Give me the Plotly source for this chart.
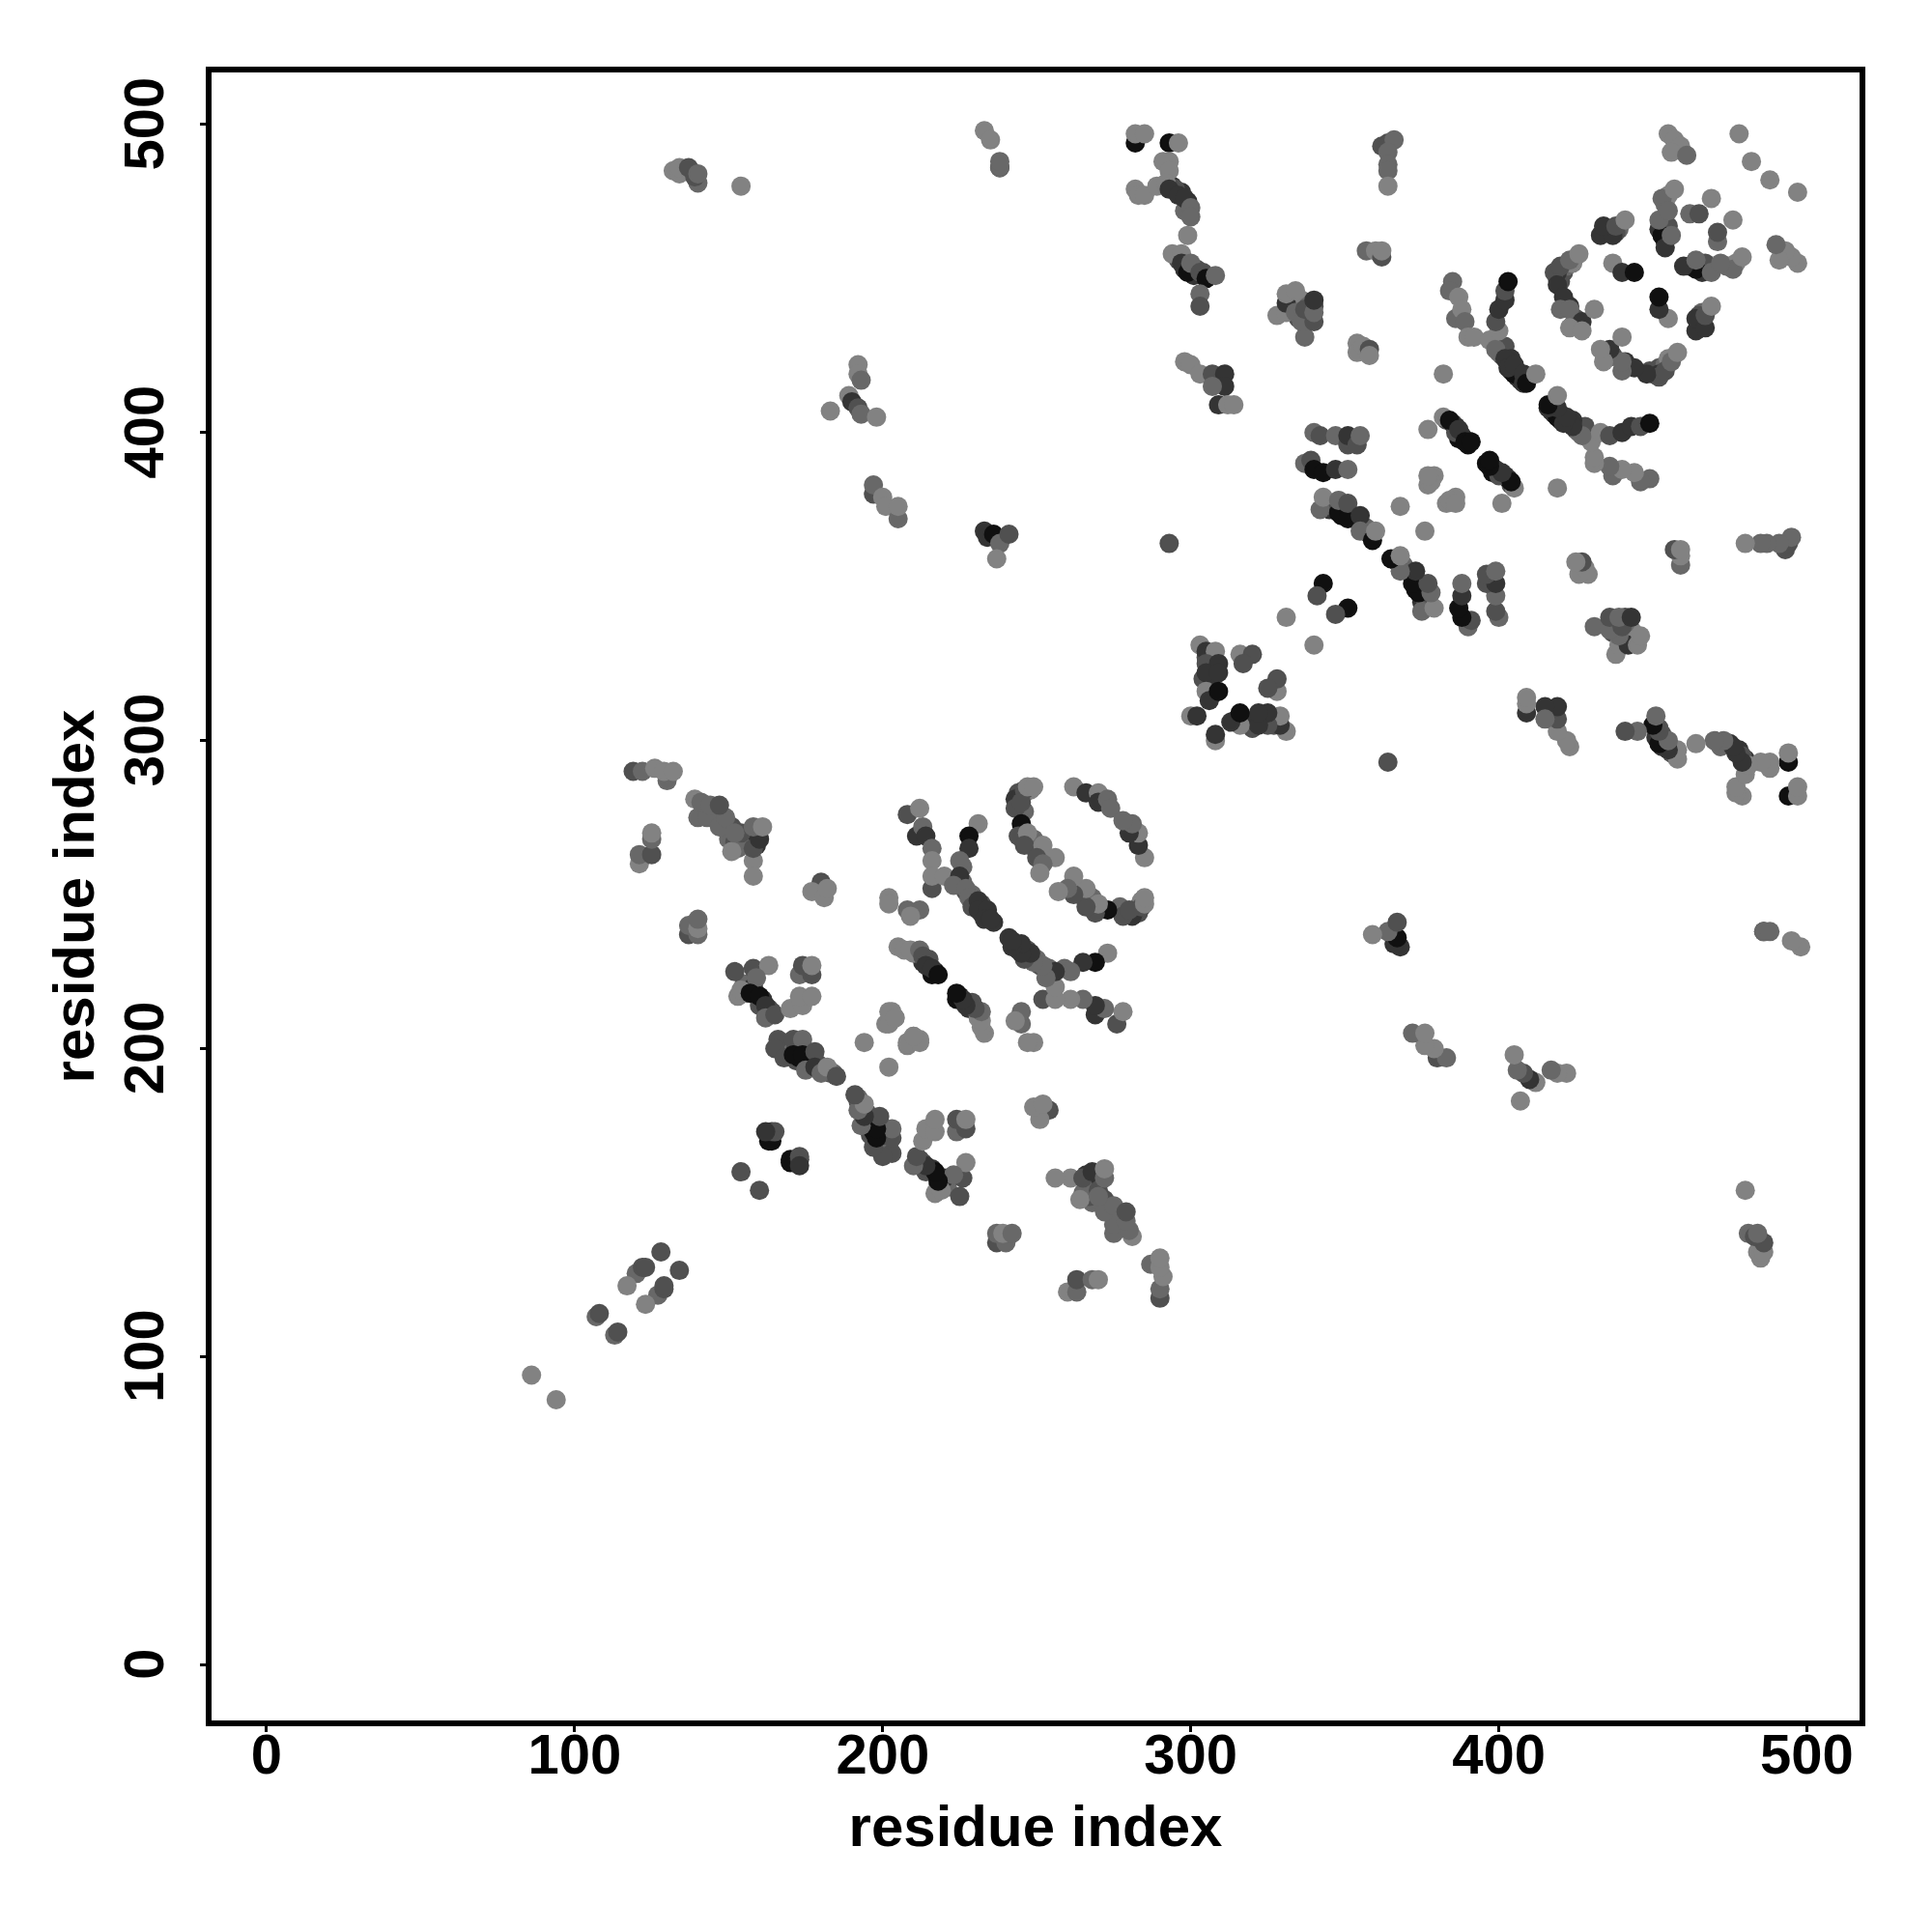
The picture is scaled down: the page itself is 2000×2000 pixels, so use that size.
import plotly.graph_objects as go

L, M, D, K, B = 130, 104, 80, 52, 16
tick_values = [0, 100, 200, 300, 400, 500]
axis_label = "residue index"

fill_g = [(166,200,M),(167,202,D),(169,199,K),(169,202,M),(172,196,D),(172,200,B),(173,197,B),(176,195,K),
          (177,197,K),(176,198,B),(179,195,D),(181,193,M),(183,192,D),(184,192,M)]
fill_f = [(155,221,M),(156,218,M),(158,220,K),(161,216,K),(163,213,D),(164,212,D),(160,214,D)]
fill_i = [(226,259,M),(232,244,K),(230,246,K),(229,250,M),(226,254,M),(234,243,K),(232,247,D),(227,251,D),(236,241,K)]
fill_j = [(244,283,D),(245,282,K),(246,283,M),(248,284,L),(244,279,D),(246,277,M),(248,266,D),(250,264,D),(249,268,M)]
fill_k = [(211,231,M),(213,228,K),(215,227,K),(216,224,B),(217,225,B),(215,229,D),(210,231,L)]
fill_x = [(383,404,D),(385,403,K),(386,402,K),(388,399,K),(387,398,B),(390,396,B),(386,400,D)]
fill_q = [(401,425,D),(403,423,K),(404,420,K),(406,420,K),(406,418,K),(407,417,K),(405,419,B),(408,416,K),
          (409,418,K),(399,428,M),(400,426,M),(402,428,D),(404,424,K)]
fill_w = [(344,377,M),(345,375,K),(346,376,D),(349,373,B),(353,372,K),(350,375,K),(357,369,M),(358,367,D)]
fill_r = [(419,450,K),(420,449,D),(421,452,D),(422,454,M),(424,455,L),(419,452,K),(423,441,K),(425,437,D),(424,435,M)]
fill_c = [(297,478,K),(294,480,K),(295,479,D),(299,475,K),(298,472,M),(298,453,K),(300,452,K),(301,451,K),
          (302,453,D),(304,452,D),(296,456,D)]
fill_b = [(143,278,M),(145,276,M),(151,272,D),(155,268,D),(156,266,K),(159,266,K),(150,268,M),(152,267,D),(154,266,M)]
fill_m = [(332,440,K),(333,441,D),(335,442,M),(333,445,L),(336,443,L),(338,438,M),(338,441,M),(340,441,D),(335,437,D),(339,437,M)]
fill_t = [(452,466,K),(454,462,K),(455,467,D),(454,474,M),(455,477,L)]
fill_s = [(435,465,D),(436,466,K),(439,466,M),(438,465,D)]
fill_a = [(307,328,M),(305,327,D),(307,326,K),(307,323,K),(304,320,D),(306,322,K),(307,315,K),(307,325,K),(308,323,K),(307,321,K)]

far_low = [(86,94,L),(107,113,M),(108,114,D),(120,127,M),(122,129,D),(123,129,D),(117,123,L),(128,134,D),
           (154,160,D)]
knot_a = [(164,170,B),(163,170,B),(164,173,K),(165,173,D),(162,173,K)]
top_row = [(119,290,D),(122,290,M),(130,287,M),(126,291,L),(129,290,L),(132,290,L)]
chain_b = [(140,275,M),(143,275,M),(147,272,M),(149,275,M),(153,265,M),(151,264,L),(158,261,L),(158,256,L),
           (158,265,D),(160,268,K),(154,270,D),(152,270,M),(139,281,L),(141,280,M),(144,279,M),(147,279,D),
           (158,272,M),(161,272,L)]
cluster_c = [(121,260,L),(121,263,M),(125,263,D),(125,268,M),(125,270,L)]
cluster_d = [(180,254,D),(177,251,L),(181,249,L),(182,252,L)]
cluster_e = [(137,237,D),(140,237,M),(137,240,M),(140,239,L),(140,242,M)]
band_f = [(152,225,D),(158,226,D),(163,227,L),(153,217,L),(154,219,L),(159,223,M),(157,218,B),(160,217,B),
          (162,214,K),(162,210,M),(165,211,D),(170,213,L),(174,214,L),(173,217,L),(177,217,L)]
tuft_f = [(173,224,M),(177,224,D),(174,227,D),(177,227,L)]
band_g = [(166,203,D),(165,200,D),(168,197,D),(171,203,D),(174,203,M),(171,198,B),(174,198,B),(178,199,D),
          (175,193,M),(178,194,K),(180,192,M),(182,194,L),(185,191,D)]
stem_h = [(208,276,D),(212,278,L),(211,269,K),(213,272,M),(214,269,K),(216,265,M),(216,261,L),(216,252,D),
          (216,256,L),(220,256,L)]
stem_i = [(231,273,L),(228,269,B),(228,265,K),(225,261,M),(225,256,K),(223,253,M),(227,252,M),(228,249,M),
          (229,246,D),(231,248,K),(231,245,K),(234,245,K),(233,242,K),(235,242,K)]
arc_j = [(243,281,K),(246,284,D),(243,278,D),(245,280,D),(247,285,L),(249,285,L),(245,273,B),(244,269,D),
         (247,270,L),(246,266,D),(252,266,L),(250,262,D),(256,262,L),(252,260,M),(251,257,L),
         (262,285,L),(266,283,K),(270,283,L),(270,280,K),(273,281,M),(274,278,M)]
band_k = [(205,233,L),(207,232,L),(209,232,L),(212,232,M),(213,230,D),(214,227,K),(216,226,K),(218,224,B)]
spots_l = [(202,249,L),(202,247,L),(208,245,M),(212,245,M),(209,243,L),(203,212,L),(204,210,L),(201,208,L),
           (194,202,L),(208,202,L),(212,202,L),(210,204,L)]

corner_a = [(282,494,B),(282,497,L),(285,497,L),(293,494,B),(296,494,L),(293,488,L),(291,488,L),(293,485,L)]
corner_b = [(282,479,L),(283,477,L),(285,477,L),(289,480,L),(292,481,L),(293,479,K),(296,477,K),(298,476,K),
            (300,473,M),(300,470,M),(299,464,L)]
corner_c = [(294,458,L),(297,458,L),(297,455,K),(299,452,B),(300,455,M),(303,452,D),(305,450,B),(308,451,M),
            (303,445,M),(303,441,D)]
corner_d = [(298,423,L),(300,422,L),(303,419,L),(307,419,D),(311,419,K),(311,415,K),(307,415,M),(309,409,K),
            (312,409,L),(314,409,L)]
block_m = [(328,438,L),(331,439,L),(331,442,K),(334,439,M),(331,445,L),(334,446,L),(337,431,M),(336,436,M),
           (337,440,D),(340,436,D),(340,439,M),(340,443,K)]
pair_n = [(357,459,M),(360,459,L),(362,457,D),(362,459,L),(354,429,L),(354,426,L),(356,428,L),(358,427,D),
          (358,425,L)]
column_o = [(362,493,D),(364,494,D),(366,495,M),(364,491,M),(364,487,M),(364,485,M),(364,480,L)]
vee_p = [(385,449,M),(384,446,M),(387,444,L),(386,437,M),(388,440,L),(389,436,M),(390,431,L),(392,431,L)]
vee_q = [(397,430,L),(399,427,M),(400,433,L),(399,436,D),(400,440,K),(402,443,K),(402,446,D),(403,449,B),
         (402,424,K),(403,421,K),(405,422,K),(408,419,K),(409,416,B),(412,419,L)]
arc_r = [(418,452,D),(419,448,K),(420,454,D),(421,444,K),(423,456,M),(426,458,L),(420,440,M),(423,440,M),
         (427,436,K),(431,440,L),(423,434,L),(427,433,L)]
arc_s = [(433,464,K),(437,464,K),(434,467,K),(438,467,D),(441,469,L),(437,455,L),(440,452,K),(444,452,B)]
crown_t = [(453,464,B),(454,460,K),(452,469,M),(456,464,M),(453,476,M),(455,472,M),(457,479,L),(462,471,M),
           (465,471,D),(469,476,L)]
crown_u = [(455,497,L),(457,495,L),(459,493,L),(456,491,L),(461,490,M),(478,497,L),(482,488,L)]
rows_v = [(340,400,M),(342,399,D),(347,399,M),(351,396,D),(351,399,K),(354,396,D),(355,399,M),
          (337,390,M),(339,391,D),(340,388,B),(343,387,B),(347,388,K),(351,388,M)]
rows_w = [(342,375,M),(348,374,B),(351,372,B),(343,379,L),(348,378,M),(351,377,D),(355,373,K),(355,368,M),
          (359,365,B),(360,368,L)]
hair_x = [(377,401,L),(382,405,L),(384,404,B),(387,401,K),(389,397,B),(391,397,B)]
spots_y = [(378,385,L),(379,386,L),(377,383,L),(384,378,L),(386,377,L),(368,376,L),(382,419,L)]
lone_z = [(293,364,D),(343,351,B),(341,347,D),(331,340,L)]
square_a = [(303,331,L),(305,329,K),(308,329,L),(305,325,D),(309,325,K),(305,322,K),(309,322,K),
            (316,328,L),(320,328,D),(317,325,D),(305,316,L),(306,313,K),(309,316,B),(300,308,L),(302,308,K)]
top_left_a = [(132,485,L),(134,484,L),(134,486,L),(137,486,D),(140,481,M),(139,483,D),(140,484,M),(154,480,L)]
top_left_b = [(233,498,L),(235,495,L),(238,486,K),(238,486,M),(238,488,M)]
mid_left_a = [(192,422,L),(192,419,L),(193,417,M),(189,412,L),(190,410,K),(192,408,D),(193,406,M),(183,407,L),
              (198,405,L)]
mid_left_b = [(197,380,D),(197,383,M),(200,379,L),(201,376,L),(205,372,M),(205,376,L)]
mid_left_c = [(233,368,K),(234,366,K),(236,367,B),(238,364,M),(241,367,D),(237,359,L)]

clusters = [fill_g, fill_f, fill_i, fill_j, fill_k, fill_x, fill_q, fill_w, fill_r, fill_c, fill_b, fill_m,
            fill_t, fill_s, fill_a,
            far_low, knot_a, top_row, chain_b, cluster_c, cluster_d, cluster_e, band_f, tuft_f, band_g, stem_h,
            stem_i, arc_j, band_k, spots_l, corner_a, corner_b, corner_c, corner_d, block_m, pair_n, column_o,
            vee_p, vee_q, arc_r, arc_s, crown_t, crown_u, rows_v, rows_w, hair_x, spots_y, lone_z, square_a,
            top_left_a, top_left_b, mid_left_a, mid_left_b, mid_left_c]

xs, ys, cols = [], [], []
for group in clusters:
    for i, j, s in group:
        xs += [i, j]
        ys += [j, i]
        cols += [f"rgb({s},{s},{s})"] * 2

fig = go.Figure(go.Scatter(x=xs, y=ys, mode="markers",
                           marker=dict(size=20, color=cols, line=dict(width=0)),
                           showlegend=False, hoverinfo="skip"))

tick_font = dict(family="Liberation Sans", size=58, color="black", weight="bold")
title_font = dict(family="Liberation Sans", size=60, color="black", weight="bold")
axis = dict(tickvals=tick_values, ticks="outside", ticklen=6, tickwidth=3, tickcolor="black",
            showgrid=False, zeroline=False, showline=True, mirror=True, linecolor="black", linewidth=6,
            tickfont=tick_font)
fig.update_xaxes(axis, range=[-17.87, 517.1], ticklabelstandoff=-27,
                 title=dict(text=f"<b>{axis_label}</b>", font=title_font, standoff=24))
fig.update_yaxes(axis, range=[-18.1, 516.9], tickangle=-90, ticklabelstandoff=15, ticklabelshift=8,
                 title=dict(text=f"<b>{axis_label}</b>", font=title_font, standoff=1))
fig.update_layout(width=2000, height=2000, autosize=False, paper_bgcolor="white", plot_bgcolor="white",
                  margin=dict(l=219, r=75, t=75, b=219))
fig.write_html("out.html", config=dict(displayModeBar=False),
               post_script="document.body.style.margin='0';")
